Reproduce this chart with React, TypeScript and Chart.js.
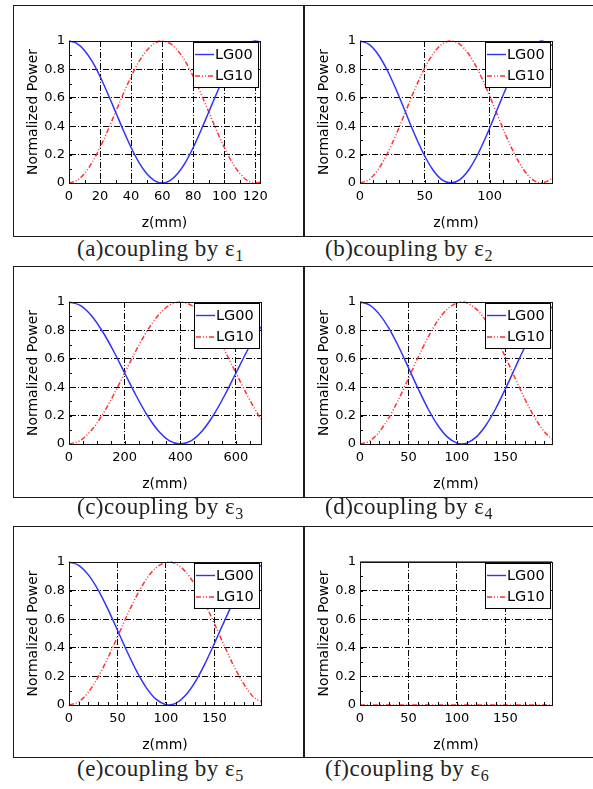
import React, { useEffect, useRef } from "react";
import { Chart, registerables } from "chart.js";

Chart.register(...registerables);

// ---------------- data ----------------
const seriesLabels = ["LG00", "LG10"];
const xTitle = "z(mm)";
const yTitle = "Normalized Power";

const zA = [0, 5, 10, 15, 20, 25, 30, 35, 40, 45, 50, 55, 60, 65, 70, 75, 80, 85, 90, 95, 100, 105, 110, 115, 120, 123];
const lg00A = [1, 0.983, 0.933, 0.854, 0.75, 0.629, 0.5, 0.371, 0.25, 0.146, 0.067, 0.017, 0, 0.017, 0.067, 0.146, 0.25, 0.371, 0.5, 0.629, 0.75, 0.854, 0.933, 0.983, 1, 0.994];
const lg10A = [0, 0.017, 0.067, 0.146, 0.25, 0.371, 0.5, 0.629, 0.75, 0.854, 0.933, 0.983, 1, 0.983, 0.933, 0.854, 0.75, 0.629, 0.5, 0.371, 0.25, 0.146, 0.067, 0.017, 0, 0.006];

const zB = [0, 7, 14, 21, 28, 35, 42, 49, 56, 63, 70, 77, 84, 91, 98, 105, 112, 119, 126, 133, 140, 148];
const lg00B = [1, 0.976, 0.905, 0.794, 0.655, 0.5, 0.345, 0.206, 0.095, 0.024, 0, 0.024, 0.095, 0.206, 0.345, 0.5, 0.655, 0.794, 0.905, 0.976, 1, 0.968];
const lg10B = [0, 0.024, 0.095, 0.206, 0.345, 0.5, 0.655, 0.794, 0.905, 0.976, 1, 0.976, 0.905, 0.794, 0.655, 0.5, 0.345, 0.206, 0.095, 0.024, 0, 0.032];

const zC = [0, 40, 80, 120, 160, 200, 240, 280, 320, 360, 400, 440, 480, 520, 560, 600, 640, 680, 690];
const lg00C = [1, 0.976, 0.905, 0.794, 0.655, 0.5, 0.345, 0.206, 0.095, 0.024, 0, 0.024, 0.095, 0.206, 0.345, 0.5, 0.655, 0.794, 0.825];
const lg10C = [0, 0.024, 0.095, 0.206, 0.345, 0.5, 0.655, 0.794, 0.905, 0.976, 1, 0.976, 0.905, 0.794, 0.655, 0.5, 0.345, 0.206, 0.175];

const zD = [0, 10, 20, 30, 40, 50, 60, 70, 80, 90, 100, 105, 110, 120, 130, 140, 150, 160, 170, 180, 190, 198];
const lg00D = [1, 0.978, 0.913, 0.812, 0.683, 0.537, 0.389, 0.25, 0.134, 0.05, 0.006, 0, 0.006, 0.05, 0.134, 0.25, 0.389, 0.537, 0.683, 0.812, 0.913, 0.965];
const lg10D = [0, 0.022, 0.087, 0.188, 0.317, 0.463, 0.611, 0.75, 0.866, 0.95, 0.994, 1, 0.994, 0.95, 0.866, 0.75, 0.611, 0.463, 0.317, 0.188, 0.087, 0.035];

const zE = [0, 10, 20, 30, 40, 50, 60, 70, 80, 90, 100, 103, 110, 120, 130, 140, 150, 160, 170, 180, 190, 198];
const lg00E = [1, 0.977, 0.91, 0.805, 0.672, 0.523, 0.372, 0.233, 0.118, 0.039, 0.002, 0, 0.011, 0.066, 0.16, 0.286, 0.432, 0.583, 0.728, 0.851, 0.942, 0.975];
const lg10E = [0, 0.023, 0.09, 0.195, 0.328, 0.477, 0.628, 0.767, 0.882, 0.961, 0.998, 1, 0.989, 0.934, 0.84, 0.714, 0.568, 0.417, 0.272, 0.149, 0.058, 0.025];

const zF = [0, 198];
const lg00F = [1, 1];
const lg10F = [0, 0];

const xTicksA = [0, 20, 40, 60, 80, 100, 120];
const xTicksB = [0, 50, 100];
const xTicksC = [0, 200, 400, 600];
const xTicksD = [0, 50, 100, 150];
const xTicksE = [0, 50, 100, 150];
const xTicksF = [0, 50, 100, 150];

const xMaxes = [123, 148, 690, 198, 198, 198];
const xMinorSteps = [10, 10, 50, 10, 10, 10];
const yTickValues = [0, 0.2, 0.4, 0.6, 0.8, 1];
const yTickLabels = ["0", "0.2", "0.4", "0.6", "0.8", "1"];
const yMinorStep = 0.1;
const captionHeads = ["(a)coupling by ε", "(b)coupling by ε", "(c)coupling by ε", "(d)coupling by ε", "(e)coupling by ε", "(f)coupling by ε"];
const captionSubs = ["1", "2", "3", "4", "5", "6"];

const zs = [zA, zB, zC, zD, zE, zF];
const lg00s = [lg00A, lg00B, lg00C, lg00D, lg00E, lg00F];
const lg10s = [lg10A, lg10B, lg10C, lg10D, lg10E, lg10F];
const xTicks = [xTicksA, xTicksB, xTicksC, xTicksD, xTicksE, xTicksF];

// ---------------- layout ----------------
type Geo = { cx: number; cy: number; cw: number; ch: number; L: number; R: number; T: number; B: number };
const colX = [14, 306];
const colW = [289, 287];
const rowY = [6, 267, 527];
const rowH = [229, 229, 229];
const plotL = [69, 360];
const plotR = [[260, 552], [261, 552], [261, 552]];
const plotT = [41, 302, 562];
const plotB = [183, 444, 705];
const capLeft = [77, 325];
const capBaseline = [256, 514.5, 776];
const hLines = [5, 236, 266, 497, 526, 757];
const cellRows = [[5, 236], [266, 497], [526, 757]];

const SANS = "'DejaVu Sans', 'Liberation Sans', sans-serif";
const GRID_DASH = [6, 2, 1, 2];
const RED_DASH = [5, 2, 1, 2, 1, 2];

function Panel({ idx, g }: { idx: number; g: Geo }) {
  const ref = useRef<HTMLCanvasElement>(null);
  useEffect(() => {
    const canvas = ref.current;
    if (!canvas) return;
    const z = zs[idx];
    const xMax = xMaxes[idx];
    const xMinor = xMinorSteps[idx];
    const titleLH = 14 * 1.2;

    const decor = {
      id: "decor" + idx,
      afterDraw(chart: any) {
        const c = chart.ctx as CanvasRenderingContext2D;
        const a = chart.chartArea;
        const xs = chart.scales.x;
        const ys = chart.scales.y;
        c.save();
        c.setLineDash([]);
        c.strokeStyle = "#000";
        c.lineWidth = 1;
        c.beginPath();
        for (let v = xMinor; v < xMax; v += xMinor) {
          const px = Math.round(xs.getPixelForValue(v)) + 0.5;
          c.moveTo(px, a.bottom);
          c.lineTo(px, a.bottom - 3);
        }
        for (let v = yMinorStep; v < 1; v += yMinorStep) {
          const py = Math.round(ys.getPixelForValue(v)) + 0.5;
          c.moveTo(a.left, py);
          c.lineTo(a.left + 3, py);
        }
        c.stroke();
        // frame
        c.strokeStyle = "#111";
        c.strokeRect(Math.round(a.left) + 0.5, Math.round(a.top) + 0.5, Math.round(a.right - a.left), Math.round(a.bottom - a.top));
        // legend box
        const bw = 65;
        const bh = 45;
        const bx = Math.round(a.right) - 2 - bw;
        const by = Math.round(a.top) + 1;
        c.fillStyle = "#fff";
        c.fillRect(bx, by, bw, bh);
        c.strokeStyle = "#000";
        c.strokeRect(bx + 0.5, by + 0.5, bw, bh);
        chart.data.datasets.forEach((ds: any, i: number) => {
          const yy = by + 12.5 + i * 21.5;
          c.strokeStyle = ds.borderColor;
          c.lineWidth = 1.4;
          c.setLineDash(ds.borderDash || []);
          c.beginPath();
          c.moveTo(bx + 2, yy);
          c.lineTo(bx + 21, yy);
          c.stroke();
          c.setLineDash([]);
          c.fillStyle = "#000";
          c.font = `14.5px ${SANS}`;
          c.textBaseline = "middle";
          c.textAlign = "left";
          c.fillText(ds.label, bx + 22, yy + 0.5);
        });
        c.restore();
      },
    };

    const chart = new Chart(canvas, {
      type: "line",
      data: {
        datasets: [
          {
            label: seriesLabels[0],
            data: z.map((x, i) => ({ x, y: lg00s[idx][i] })),
            borderColor: "rgb(50,50,255)",
            borderWidth: 1.5,
            pointRadius: 0,
            cubicInterpolationMode: "monotone",
            fill: false,
            clip: 3,
          },
          {
            label: seriesLabels[1],
            data: z.map((x, i) => ({ x, y: lg10s[idx][i] })),
            borderColor: "rgb(255,50,50)",
            borderWidth: 1.5,
            borderDash: RED_DASH,
            pointRadius: 0,
            cubicInterpolationMode: "monotone",
            fill: false,
            clip: 3,
          },
        ],
      },
      options: {
        responsive: false,
        animation: false,
        events: [],
        layout: { padding: { top: g.T - g.cy, right: g.cx + g.cw - g.R, left: 0, bottom: 0 } },
        plugins: { legend: { display: false }, tooltip: { enabled: false } },
        scales: {
          x: {
            type: "linear",
            min: 0,
            max: xMax,
            afterBuildTicks: (s: any) => {
              s.ticks = xTicks[idx].map((v) => ({ value: v }));
            },
            afterFit: (s: any) => {
              s.height = g.cy + g.ch - g.B;
            },
            ticks: {
              autoSkip: false,
              maxRotation: 0,
              color: "#000",
              padding: 6,
              font: { family: SANS, size: 13 },
              callback: (v: any) => String(v),
            },
            grid: { color: "#000", lineWidth: 1, drawTicks: false },
            border: { display: true, color: "#000", dash: GRID_DASH },
            title: {
              display: true,
              text: xTitle,
              color: "#000",
              font: { family: SANS, size: 14 },
              padding: { top: 0, bottom: g.cy + g.ch - (g.B + 40) - titleLH / 2 },
            },
          },
          y: {
            type: "linear",
            min: 0,
            max: 1,
            afterBuildTicks: (s: any) => {
              s.ticks = yTickValues.map((v) => ({ value: v }));
            },
            afterFit: (s: any) => {
              s.width = g.L - g.cx;
            },
            ticks: {
              color: "#000",
              padding: 4,
              font: { family: SANS, size: 13 },
              callback: (_v: any, i: number) => yTickLabels[i],
            },
            grid: { color: "#000", lineWidth: 1, drawTicks: false },
            border: { display: true, color: "#000", dash: GRID_DASH },
            title: {
              display: true,
              text: yTitle,
              color: "#000",
              font: { family: SANS, size: 14 },
              padding: { top: g.L - 36 - g.cx - titleLH / 2, bottom: 0 },
            },
          },
        },
      },
      plugins: [decor],
    } as any);
    return () => chart.destroy();
  }, [idx]);
  return (
    <canvas
      ref={ref}
      width={g.cw}
      height={g.ch}
      style={{ position: "absolute", left: g.cx, top: g.cy, width: g.cw, height: g.ch }}
    />
  );
}

export default function App() {
  const panels = [0, 1, 2, 3, 4, 5].map((i) => {
    const col = i % 2;
    const row = Math.floor(i / 2);
    const g: Geo = {
      cx: colX[col],
      cy: rowY[row],
      cw: colW[col],
      ch: rowH[row],
      L: plotL[col],
      R: plotR[row][col],
      T: plotT[row],
      B: plotB[row],
    };
    return { i, col, row, g };
  });
  const lineColor = "#1a1a1a";
  return (
    <div style={{ position: "absolute", left: 0, top: 0, width: 593, height: 789, background: "#fff", overflow: "hidden" }}>
      {hLines.map((y, k) => (
        <div key={"h" + k} style={{ position: "absolute", left: 13, top: y, width: 580, height: 1, background: lineColor }} />
      ))}
      {cellRows.map(([y0, y1], k) => (
        <React.Fragment key={"v" + k}>
          <div style={{ position: "absolute", left: 13, top: y0, width: 1, height: y1 - y0, background: lineColor }} />
          <div style={{ position: "absolute", left: 303, top: y0, width: 2, height: y1 - y0, background: lineColor }} />
        </React.Fragment>
      ))}
      {panels.map(({ i, g }) => (
        <Panel key={i} idx={i} g={g} />
      ))}
      {panels.map(({ i, col, row }) => (
        <div
          key={"c" + i}
          style={{
            position: "absolute",
            left: capLeft[col],
            top: capBaseline[row] - 19.3,
            fontFamily: "'Liberation Serif', serif",
            fontSize: 23,
            lineHeight: "23px",
            letterSpacing: "0.5px",
            whiteSpace: "nowrap",
            color: "#222",
          }}
        >
          {captionHeads[i]}
          <sub style={{ fontSize: "0.7em", verticalAlign: "-0.3em", lineHeight: 0 }}>{captionSubs[i]}</sub>
        </div>
      ))}
    </div>
  );
}
